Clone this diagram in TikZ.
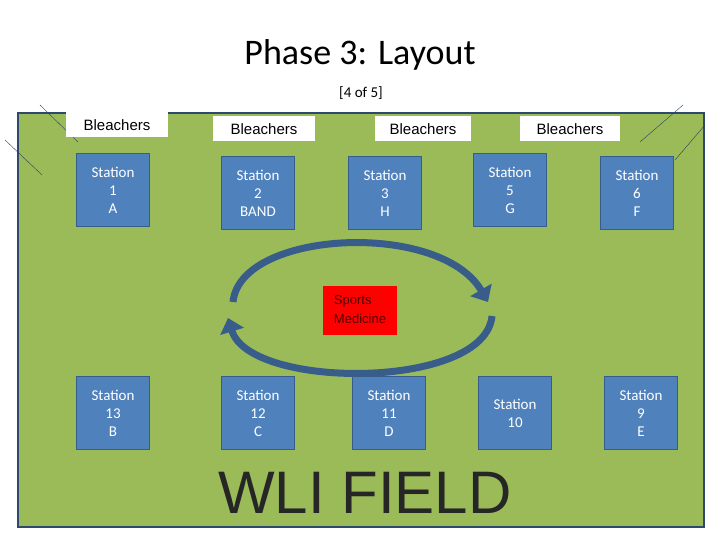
\documentclass[tikz,border=0pt]{standalone}
\usepackage{fontspec}
\setmainfont{Carlito}
\newfontfamily\arialf{Liberation Sans}
\usetikzlibrary{arrows.meta}
\definecolor{fieldgreen}{RGB}{155,187,89}
\definecolor{stationblue}{RGB}{79,129,189}
\definecolor{edgeblue}{RGB}{56,93,138}
\tikzset{
  station/.style={draw=edgeblue, line width=1.2pt, fill=stationblue, text=white, minimum width=73pt, minimum height=73pt, align=center, font=\fontsize{15}{18}\selectfont, inner sep=0pt},
  bleach/.style={fill=white, minimum height=25pt, font=\arialf\fontsize{15}{18}\selectfont, inner sep=0pt},
  loop/.style={draw=edgeblue, line width=7pt, -{Triangle[length=14pt, width=24pt]}},
  ticks/.style={draw=edgeblue!70!black, thin}
}
\begin{document}
\begin{tikzpicture}[x=1pt, y=-1pt]
        \useasboundingbox[fill=white] (0,0) rectangle (720,540);
        % field
        \draw[fill=fieldgreen, draw=edgeblue!80!black, line width=1.5pt] (18,113) rectangle (704,527);
        \draw[ticks] (40,105) -- (78,142);
        \draw[ticks] (5,140) -- (42,175);
        \draw[ticks] (683,105) -- (640,142);
        \draw[ticks] (705,125) -- (675,160);
        % titles
        \node[font=\fontsize{36}{40}\selectfont] (title) at (360,55) {Phase 3: Layout};
        \node[font=\fontsize{15}{18}\selectfont] (part) at (361,93) {[4 of 5]};
        % bleachers
        \node[bleach, minimum width=102pt] (b1) at (117,125) {Bleachers};
        \node[bleach, minimum width=102pt] (b2) at (264,129) {Bleachers};
        \node[bleach, minimum width=96pt] (b3) at (423,129) {Bleachers};
        \node[bleach, minimum width=100pt] (b4) at (570,129) {Bleachers};
        % stations
        \node[station] (s1) at (113,190) {Station\\1\\A};
        \node[station] (s2) at (258,193) {Station\\2\\BAND};
        \node[station] (s3) at (385,193) {Station\\3\\H};
        \node[station] (s5) at (510,190) {Station\\5\\G};
        \node[station] (s6) at (637,193) {Station\\6\\F};
        \node[station] (s13) at (113,413) {Station\\13\\B};
        \node[station] (s12) at (258,413) {Station\\12\\C};
        \node[station] (s11) at (389,413) {Station\\11\\D};
        \node[station] (s10) at (515,413) {Station\\10};
        \node[station] (s9) at (641,413) {Station\\9\\E};
        % rotation
        \node[fill=red, minimum width=74pt, minimum height=49pt, align=left, font=\arialf\fontsize{13}{19}\selectfont, text=black!70!red] (med) at (360,310) {Sports\\Medicine};
        \coordinate (l1) at (233,302);
        \coordinate (r1) at (488,302);
        \coordinate (r2) at (492,316);
        \coordinate (l2) at (228,318);
        \draw[loop] (l1) .. controls (240,230) and (440,220) .. (r1);
        \draw[loop] (r2) .. controls (485,390) and (250,390) .. (l2);
        \node[font=\arialf\fontsize{60}{64}\selectfont, text=black!85] (field) at (365,493) {WLI FIELD};
\end{tikzpicture}
\end{document}
